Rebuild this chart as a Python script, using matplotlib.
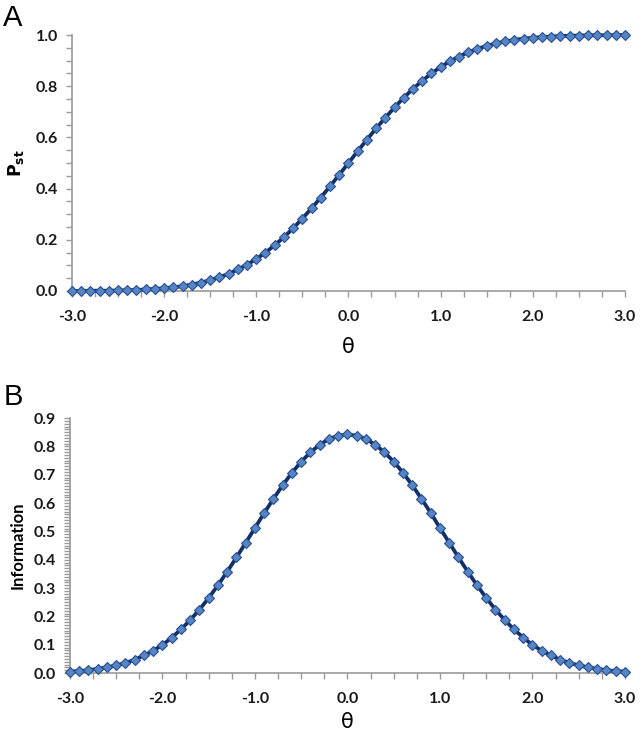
import matplotlib
matplotlib.use("Agg")
import matplotlib.pyplot as plt
from matplotlib.ticker import MultipleLocator, FormatStrFormatter

# theta grid, step 0.1 from -3.0 to 3.0
theta = [round(-3.0 + 0.1 * i, 1) for i in range(61)]

# Panel A: probability of endorsement
p_st = [0.000, 0.000, 0.001, 0.001, 0.001, 0.002, 0.003, 0.004, 0.006, 0.008,
        0.011, 0.014, 0.019, 0.025, 0.033, 0.042, 0.054, 0.067, 0.084, 0.103,
        0.125, 0.150, 0.179, 0.210, 0.245, 0.283, 0.323, 0.365, 0.409, 0.454,
        0.500,
        0.546, 0.591, 0.635, 0.677, 0.717, 0.755, 0.790, 0.821, 0.850, 0.875,
        0.897, 0.916, 0.933, 0.946, 0.958, 0.967, 0.975, 0.981, 0.986, 0.989,
        0.992, 0.994, 0.996, 0.997, 0.998, 0.999, 0.999, 0.999, 1.000, 1.000]

# Panel B: item information
info = [0.005, 0.007, 0.010, 0.015, 0.020, 0.027, 0.036, 0.047, 0.062, 0.079,
        0.099, 0.125, 0.154, 0.187, 0.224, 0.265, 0.310, 0.358, 0.408, 0.460,
        0.512, 0.565, 0.615, 0.663, 0.707, 0.746, 0.779, 0.806, 0.826, 0.838,
        0.842,
        0.838, 0.826, 0.806, 0.779, 0.746, 0.707, 0.663, 0.615, 0.565, 0.512,
        0.460, 0.408, 0.358, 0.310, 0.265, 0.224, 0.187, 0.154, 0.125, 0.099,
        0.079, 0.062, 0.047, 0.036, 0.027, 0.020, 0.015, 0.010, 0.007, 0.005]

LINE = "#112F6B"
FILL = "#5585C4"
EDGE = "#2A4F8F"
AXIS = "#9A9A9A"
TICK_FONT = "Lato"

fig = plt.figure(figsize=(6.42, 7.40), dpi=100)
ax_a = fig.add_axes([0.112, 0.6068, 0.8615, 0.3459])
ax_b = fig.add_axes([0.109, 0.0905, 0.8645, 0.3446])


def style_axes(ax, y, ymax, ymajor, yminor, xpad):
    ax.plot(theta, y, color=LINE, linewidth=2.7,
            marker="D", markersize=4.8, markerfacecolor=FILL,
            markeredgecolor=EDGE, markeredgewidth=0.8, clip_on=False, zorder=3)
    ax.set_xlim(-3.0, 3.0)
    ax.set_ylim(0.0, ymax)
    ax.xaxis.set_major_locator(MultipleLocator(1.0))
    ax.xaxis.set_minor_locator(MultipleLocator(0.25))
    ax.yaxis.set_major_locator(MultipleLocator(ymajor))
    ax.yaxis.set_minor_locator(MultipleLocator(yminor))
    ax.xaxis.set_major_formatter(FormatStrFormatter("%.1f"))
    ax.yaxis.set_major_formatter(FormatStrFormatter("%.1f"))
    for side in ["top", "right"]:
        ax.spines[side].set_visible(False)
    for side in ["left", "bottom"]:
        ax.spines[side].set_color(AXIS)
        ax.spines[side].set_linewidth(1.2)
    ax.tick_params(which="both", direction="out", color=AXIS, width=1.0, length=4)
    ax.tick_params(axis="y", which="both", pad=6)
    ax.tick_params(axis="x", which="both", pad=10)
    for lab in ax.get_xticklabels() + ax.get_yticklabels():
        lab.set_fontfamily(TICK_FONT)
        lab.set_fontweight("bold")
        lab.set_fontsize(11.5)
        lab.set_color("#1a1a1a")
    ax.set_xlabel("θ", fontsize=15, fontfamily="DejaVu Sans", labelpad=xpad)


style_axes(ax_a, p_st, 1.0, 0.2, 0.05, 9)
style_axes(ax_b, info, 0.9, 0.1, 0.01, 4)

ax_a.set_ylabel(r"$\mathbf{P}_{\mathbf{st}}$", fontsize=12.5, labelpad=7)
ax_b.set_ylabel("Information", fontsize=12, fontweight="bold",
                fontfamily=TICK_FONT, labelpad=6)

fig.text(0.005, 0.995, "A", fontsize=21, fontfamily="Liberation Sans", va="top")
fig.text(0.005, 0.483, "B", fontsize=21, fontfamily="Liberation Sans", va="top")

fig.savefig("out.png", dpi=100)
